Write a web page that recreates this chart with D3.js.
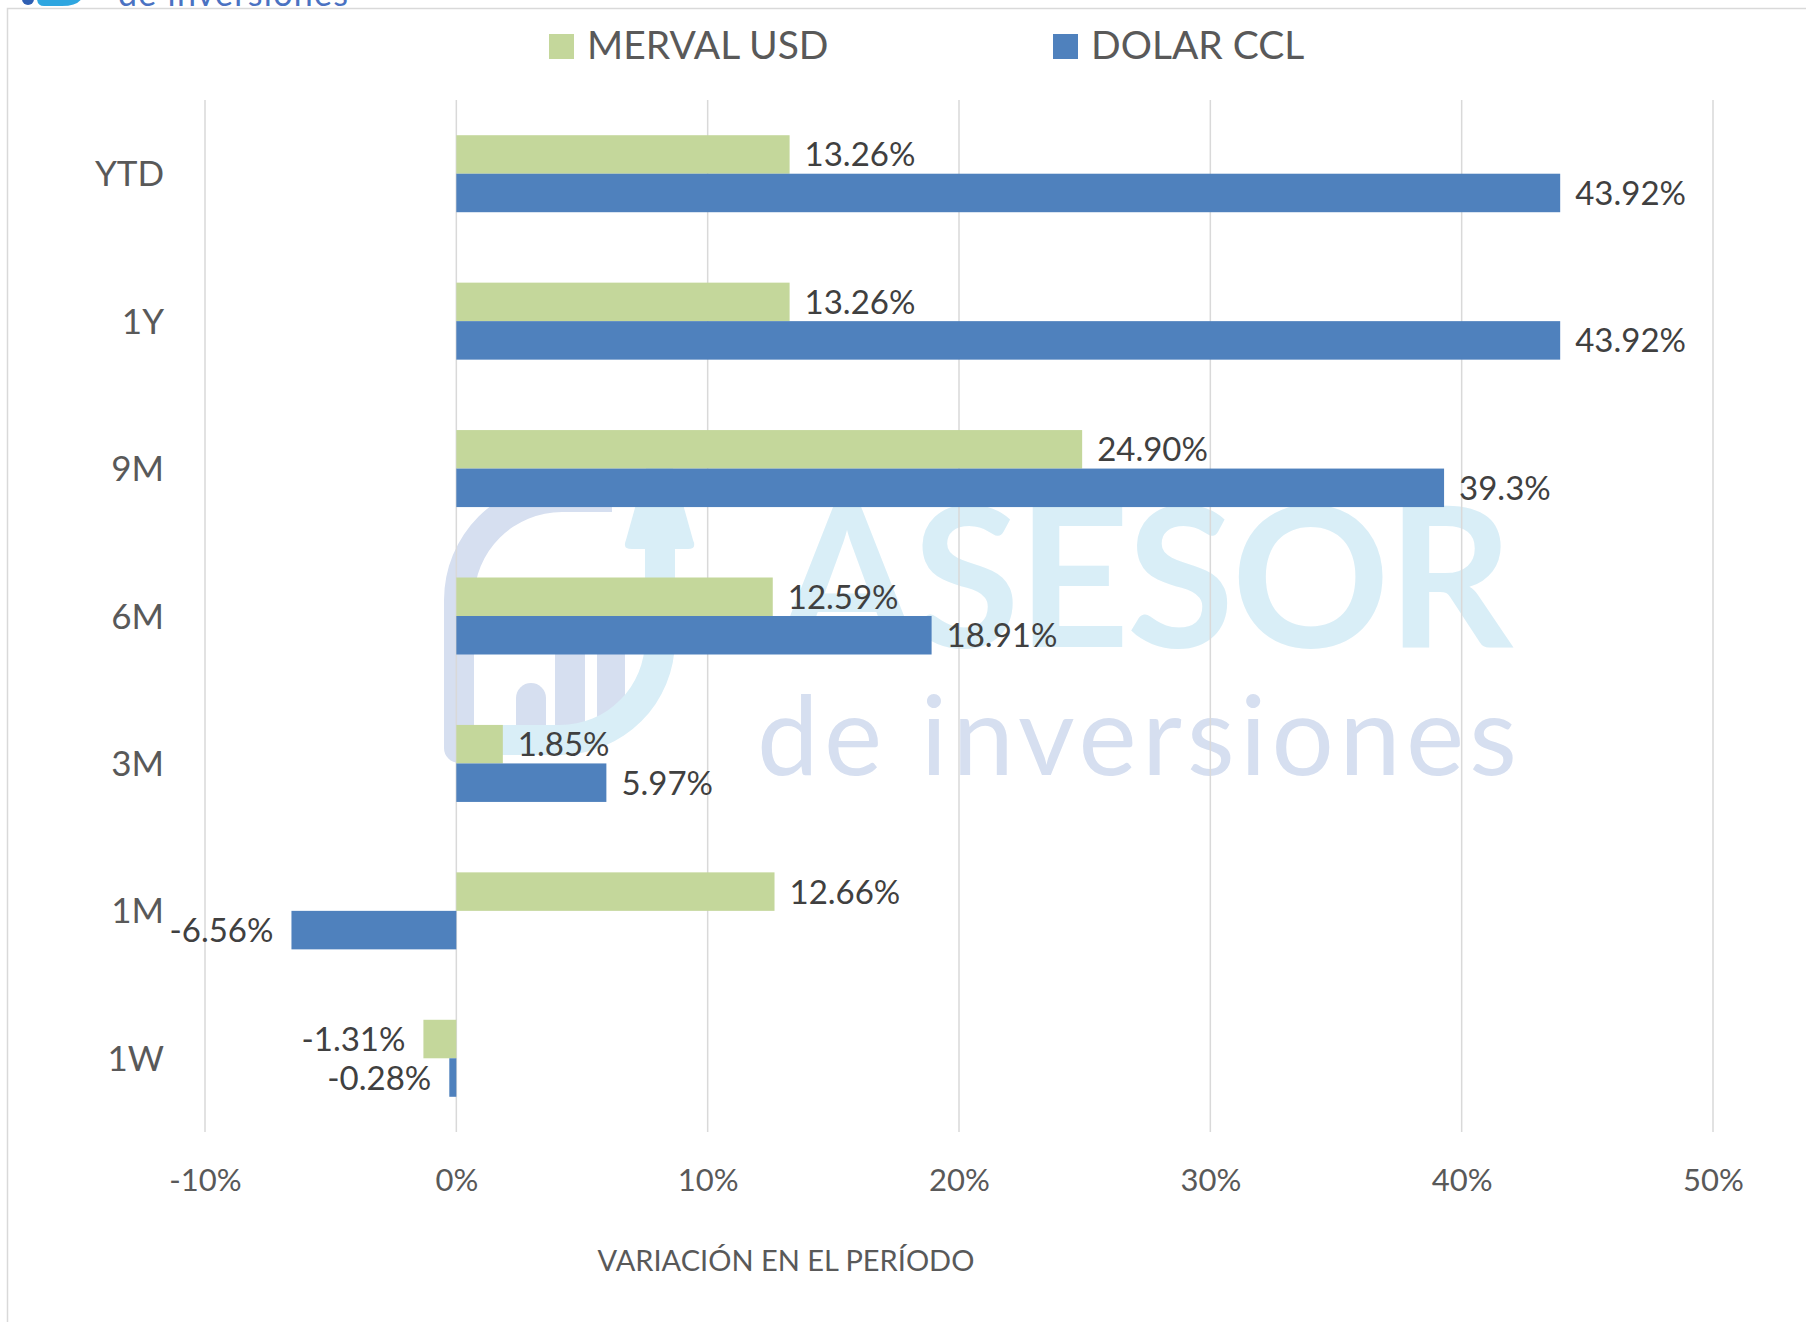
<!DOCTYPE html>
<html><head><meta charset="utf-8">
<script src="https://cdn.jsdelivr.net/npm/d3@7"></script>
<style>html,body{margin:0;padding:0;background:#fff;overflow:hidden;} svg{display:block;}</style>
</head><body>
<script>
// ---- data ----
const categories = ["YTD", "1Y", "9M", "6M", "3M", "1M", "1W"];
const seriesNames = ["MERVAL USD", "DOLAR CCL"];
const mervalUSD = [13.26, 13.26, 24.90, 12.59, 1.85, 12.66, -1.31];
const dolarCCL = [43.92, 43.92, 39.3, 18.91, 5.97, -6.56, -0.28];
const mervalLabels = ["13.26%", "13.26%", "24.90%", "12.59%", "1.85%", "12.66%", "-1.31%"];
const dolarLabels = ["43.92%", "43.92%", "39.3%", "18.91%", "5.97%", "-6.56%", "-0.28%"];
const xTicks = [-10, 0, 10, 20, 30, 40, 50];
const xTickLabels = ["-10%", "0%", "10%", "20%", "30%", "40%", "50%"];
const axisTitle = "VARIACIÓN EN EL PERÍODO";

const colors = {"MERVAL USD": "#c4d79b", "DOLAR CCL": "#4f81bd"};
const W = 1806, H = 1322;
const FONT = "Lato, 'Open Sans', sans-serif";

const svg = d3.select("body").append("svg").attr("width", W).attr("height", H);

// chart frame
svg.append("path").attr("d", `M7.5,${H} V8.5 H${W}`).attr("fill", "none").attr("stroke", "#d9d9d9").attr("stroke-width", 1.5);

// cropped logo at top-left
const logo = svg.append("g");
logo.append("circle").attr("cx", 28).attr("cy", -1).attr("r", 6).attr("fill", "#2f5fb3");
logo.append("path").attr("d", "M37,-10 H84 V-10 Q84,6 62,6 H44 Q37,6 37,-2 Z").attr("fill", "#2ea6e0");
logo.append("text").attr("x", 118).attr("y", 6).attr("font-family", FONT).attr("font-size", 34)
  .attr("fill", "#4a72c2").attr("textLength", 230).attr("lengthAdjust", "spacing").text("de inversiones");

// scales
const x = d3.scaleLinear().domain([-10, 50]).range([205, 1713]);
const y = d3.scaleBand().domain(categories).range([100, 1132]).paddingInner(0.4777).paddingOuter(0.4777 / 2);
const ySub = d3.scaleBand().domain(seriesNames).range([0, y.bandwidth()]);

// watermark
const wm = svg.append("g");
const lav = "#d6dff0", lblue = "#d9eef7";
wm.append("path").attr("d",
  "M444,600 A118,118 0 0 1 562,482 H612 V512 H562 A88,88 0 0 0 474,600 V748 A15,15 0 0 1 444,748 Z")
  .attr("fill", lav);
wm.append("path").attr("d", "M516,698 A15,15 0 0 1 546,698 V740 H516 Z").attr("fill", lav);
wm.append("rect").attr("x", 555).attr("y", 600).attr("width", 30).attr("height", 140).attr("fill", lav);
wm.append("rect").attr("x", 597).attr("y", 600).attr("width", 28).attr("height", 120).attr("fill", lav);
wm.append("path").attr("d",
  "M645,545 V640 A85,85 0 0 1 560,725 H474 V755 H560 A115,115 0 0 0 675,640 V545 Z").attr("fill", lblue);
wm.append("path").attr("d", "M626,540 Q622,549 632,549 H688 Q697,549 693,540 L665,440 Q659,430 654,440 Z").attr("fill", lblue);
wm.append("text").attr("x", 779).attr("y", 647).attr("font-family", FONT).attr("font-weight", 700)
  .attr("font-size", 196).attr("fill", lblue).attr("textLength", 734).attr("lengthAdjust", "spacing").text("ASESOR");
wm.append("text").attr("x", 757).attr("y", 775).attr("font-family", FONT).attr("font-weight", 400)
  .attr("font-size", 110).attr("fill", lav).attr("textLength", 760).attr("lengthAdjust", "spacing").text("de inversiones");

// gridlines
svg.append("g").selectAll("line").data(xTicks).join("line")
  .attr("x1", d => x(d)).attr("x2", d => x(d)).attr("y1", 100).attr("y2", 1132)
  .attr("stroke", "#d9d9d9").attr("stroke-width", 1.5);

// x axis labels
const xAxis = svg.append("g").attr("transform", "translate(0,1132)")
  .call(d3.axisBottom(x).tickValues(xTicks).tickFormat((d, i) => xTickLabels[i]).tickSize(0));
xAxis.select(".domain").remove();
xAxis.selectAll("text").attr("y", 59).attr("dy", 0).attr("font-family", FONT).attr("font-size", 31).attr("fill", "#595959");

// y axis labels
const yAxis = svg.append("g").attr("transform", "translate(164,0)")
  .call(d3.axisLeft(y).tickSize(0).tickPadding(0));
yAxis.select(".domain").remove();
yAxis.selectAll("text").attr("x", 0).attr("dy", 0).attr("y", 12.5).attr("font-family", FONT).attr("font-size", 35).attr("fill", "#595959");

// bars
const rows = categories.map((c, i) => ({cat: c, vals: [
  {s: seriesNames[0], v: mervalUSD[i], lab: mervalLabels[i]},
  {s: seriesNames[1], v: dolarCCL[i], lab: dolarLabels[i]}]}));
const g = svg.append("g").selectAll("g").data(rows).join("g").attr("transform", d => `translate(0,${y(d.cat)})`);
g.selectAll("rect").data(d => d.vals).join("rect")
  .attr("x", d => x(Math.min(0, d.v))).attr("width", d => Math.abs(x(d.v) - x(0)))
  .attr("y", d => ySub(d.s)).attr("height", ySub.bandwidth())
  .attr("fill", d => colors[d.s]);
g.selectAll("text").data(d => d.vals).join("text")
  .attr("x", d => d.v >= 0 ? x(d.v) + 15 : x(d.v) - 18)
  .attr("y", d => ySub(d.s) + ySub.bandwidth() / 2 + 12)
  .attr("text-anchor", d => d.v >= 0 ? "start" : "end")
  .attr("font-family", FONT).attr("font-size", 33).attr("fill", "#404040")
  .text(d => d.lab);

// legend
const legend = svg.append("g").selectAll("g").data(seriesNames).join("g")
  .attr("transform", (d, i) => `translate(${[549, 1053][i]},34)`);
legend.append("rect").attr("width", 25).attr("height", 25).attr("fill", d => colors[d]);
legend.append("text").attr("x", 38).attr("y", 25).attr("font-family", FONT).attr("font-size", 39)
  .attr("fill", "#595959").text(d => d);

// axis title
svg.append("text").attr("x", 786).attr("y", 1271).attr("text-anchor", "middle").attr("font-family", FONT)
  .attr("font-size", 29).attr("fill", "#595959").text(axisTitle);
</script>
</body></html>
